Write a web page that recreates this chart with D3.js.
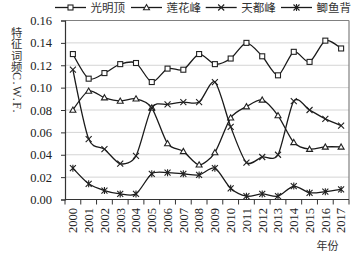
<!DOCTYPE html>
<html><head><meta charset="utf-8">
<script src="https://cdn.jsdelivr.net/npm/d3@7"></script>
<style>body{margin:0;background:#fff}svg{display:block}</style>
</head><body>
<svg id="c" width="363" height="258"></svg>
<script>
const years = ["2000","2001","2002","2003","2004","2005","2006","2007","2008","2009","2010","2011","2012","2013","2014","2015","2016","2017"];
const seriesNames = ["光明顶","莲花峰","天都峰","鲫鱼背"];
const guangmingding = [0.130,0.108,0.113,0.121,0.122,0.105,0.117,0.116,0.130,0.121,0.126,0.140,0.128,0.111,0.132,0.123,0.142,0.135];
const lianhuafeng  = [0.080,0.097,0.091,0.088,0.090,0.082,0.050,0.043,0.031,0.042,0.073,0.083,0.089,0.075,0.051,0.045,0.047,0.047];
const tiandufeng   = [0.116,0.054,0.045,0.032,0.039,0.082,0.085,0.087,0.087,0.105,0.065,0.033,0.038,0.040,0.088,0.080,0.072,0.066];
const jiyubei      = [0.028,0.014,0.008,0.005,0.005,0.023,0.024,0.023,0.022,0.028,0.010,0.003,0.005,0.003,0.012,0.006,0.007,0.009];
const yTicks = [0,0.02,0.04,0.06,0.08,0.10,0.12,0.14,0.16];
const markers = ["square","triangle","cross","star"];
const yTitleCJK = "特征词频";
const yTitleLatin = "C.W.F.";
const xTitle = "年份";

const svg = d3.select("#c");
const L = 65, R = 349, T = 20.5, B = 199.5;
const x = d3.scaleBand().domain(years).range([L, R]);
const y = d3.scaleLinear().domain([0, 0.16]).range([B, T]);
const serif = "'Liberation Serif','Times New Roman',serif";
const cjk = "'Noto Sans CJK SC',sans-serif";

// gridlines
svg.append("g").selectAll("line").data(yTicks.filter(d => d > 0 && d < 0.16)).join("line")
  .attr("x1", L).attr("x2", R).attr("y1", d => y(d)).attr("y2", d => y(d))
  .attr("stroke", "#d4d4d4").attr("stroke-width", 1);
// frame top/right
svg.append("line").attr("x1", L).attr("x2", R).attr("y1", T).attr("y2", T).attr("stroke", "#808080").attr("stroke-width", 1.2);
svg.append("line").attr("x1", R).attr("x2", R).attr("y1", T).attr("y2", B).attr("stroke", "#808080").attr("stroke-width", 1.2);

// y axis
const yAxis = svg.append("g").attr("transform", `translate(${L},0)`)
  .call(d3.axisLeft(y).tickValues(yTicks).tickFormat(d3.format(".2f")).tickSize(4).tickPadding(9));
yAxis.attr("font-family", null).attr("font-size", null);
yAxis.select(".domain").attr("stroke", "#333").attr("stroke-width", 1.2);
yAxis.selectAll(".tick line").attr("stroke", "#333");
yAxis.selectAll("text").style("font-family", serif).style("font-size", "12.5px").attr("fill", "#222");

// x axis
const xg = svg.append("g").attr("transform", `translate(0,${B})`);
xg.append("line").attr("x1", L).attr("x2", R).attr("stroke", "#333").attr("stroke-width", 1.2);
const bounds = years.map(d => x(d)).concat([x(years[years.length-1]) + x.bandwidth()]);
xg.selectAll("line.t").data(bounds).join("line").attr("class","t")
  .attr("x1", d => d).attr("x2", d => d).attr("y1", 0).attr("y2", 5).attr("stroke", "#333");
xg.selectAll("text").data(years).join("text")
  .attr("transform", d => `translate(${x(d) + x.bandwidth()/2},8.5) rotate(-90)`)
  .attr("text-anchor", "end").attr("dy", "0.35em")
  .style("font-family", serif).style("font-size", "12.5px").attr("fill", "#222").text(d => d);

// titles
const yt = svg.append("text").attr("x", 16.7).attr("y", 27).attr("writing-mode", "vertical-rl")
  .attr("fill", "#333");
yt.append("tspan").style("font-family", cjk).style("font-size", "11.3px").text(yTitleCJK);
yt.append("tspan").style("font-family", serif).style("font-size", "12px").attr("letter-spacing", "1.5").text(yTitleLatin);
svg.append("text").attr("x", 327.5).attr("y", 250).attr("text-anchor", "middle")
  .style("font-family", cjk).style("font-size", "11px").attr("fill", "#333").text(xTitle);

// marker drawing
function drawMarker(g, type, cx, cy) {
  if (type === "square") {
    g.append("rect").attr("x", cx - 2.5).attr("y", cy - 2.5).attr("width", 5).attr("height", 5)
      .attr("fill", "#fff").attr("stroke", "#222").attr("stroke-width", 1.1);
  } else if (type === "triangle") {
    g.append("path").attr("d", `M${cx},${cy-3}L${cx+3},${cy+2.2}L${cx-3},${cy+2.2}Z`)
      .attr("fill", "#fff").attr("stroke", "#222").attr("stroke-width", 1.1);
  } else if (type === "cross") {
    g.append("path").attr("d", `M${cx-3},${cy-3}L${cx+3},${cy+3}M${cx-3},${cy+3}L${cx+3},${cy-3}`)
      .attr("stroke", "#222").attr("stroke-width", 1.1);
  } else {
    g.append("path").attr("d", `M${cx-3},${cy-3}L${cx+3},${cy+3}M${cx-3},${cy+3}L${cx+3},${cy-3}M${cx},${cy-3.5}L${cx},${cy+3.5}`)
      .attr("stroke", "#222").attr("stroke-width", 1.1);
  }
}

const allSeries = [guangmingding, lianhuafeng, tiandufeng, jiyubei];
const line = d3.line().x((d, i) => x(years[i]) + x.bandwidth()/2).y(d => y(d)).curve(d3.curveCardinal.tension(0.2));
allSeries.forEach((vals, si) => {
  const g = svg.append("g");
  g.append("path").datum(vals).attr("d", line).attr("fill", "none").attr("stroke", "#1a1a1a").attr("stroke-width", 1.3);
  vals.forEach((v, i) => drawMarker(g, markers[si], x(years[i]) + x.bandwidth()/2, y(v)));
});

// legend
const legX = [55, 131, 205.7, 281];
const lg = svg.append("g");
seriesNames.forEach((n, i) => {
  const x0 = legX[i];
  lg.append("line").attr("x1", x0).attr("x2", x0 + 31).attr("y1", 7.5).attr("y2", 7.5).attr("stroke", "#1a1a1a").attr("stroke-width", 1.3);
  drawMarker(lg, markers[i], x0 + 15.5, 7.5);
  lg.append("text").attr("x", x0 + 35.5).attr("y", 7.5).attr("dy", "0.36em")
    .style("font-family", cjk).style("font-size", "11.5px").attr("fill", "#333").text(n);
});
</script>
</body></html>
